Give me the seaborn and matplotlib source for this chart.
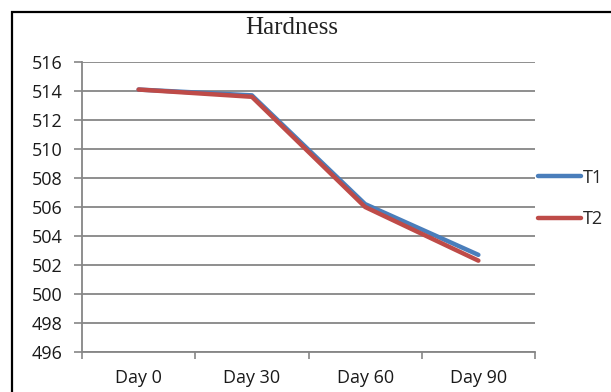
import matplotlib
matplotlib.use("Agg")
import matplotlib.pyplot as plt
from matplotlib.patches import Rectangle
import seaborn as sns
import pandas as pd

# Datos
dias = ["Day 0", "Day 30", "Day 60", "Day 90"]
t1 = [514.1, 513.7, 506.2, 502.7]
t2 = [514.1, 513.6, 506.0, 502.3]
y_ticks = list(range(496, 517, 2))

df = pd.DataFrame({
    "dia": dias * 2,
    "valor": t1 + t2,
    "serie": ["T1"] * len(dias) + ["T2"] * len(dias),
})

sns.set_style("white")
plt.rcParams["font.family"] = ["Open Sans", "DejaVu Sans"]

fig = plt.figure(figsize=(6.11, 3.92), dpi=100)
ax = fig.add_axes([82 / 611, 1 - 352 / 392, (535 - 82) / 611, (352 - 62) / 392])

sns.lineplot(data=df, x="dia", y="valor", hue="serie", sort=False,
             palette={"T1": "#4A7EBB", "T2": "#BE4B48"}, linewidth=3.2, ax=ax)

ax.set_xlim(-0.5, 3.5)
ax.set_ylim(496, 516)
ax.set_yticks(y_ticks)
ax.set_xticks(range(len(dias)))
ax.set_xticklabels(dias)
ax.set_xticks([-0.5, 0.5, 1.5, 2.5, 3.5], minor=True)
ax.tick_params(axis="x", which="major", length=0, labelsize=13, pad=12, colors="#1a1a1a")
ax.tick_params(axis="x", which="minor", length=5, width=1.2, color="#868686", bottom=True)
ax.tick_params(axis="y", length=6, width=1.2, labelsize=13, colors="#1a1a1a", left=True, pad=8)
ax.tick_params(axis="y", color="#868686")
ax.yaxis.grid(True, color="#868686", linewidth=1.3)
ax.set_axisbelow(True)
for s in ["top", "right"]:
    ax.spines[s].set_visible(False)
for s in ["left", "bottom"]:
    ax.spines[s].set_color("#868686")
    ax.spines[s].set_linewidth(1.3)
ax.set_xlabel("")
ax.set_ylabel("")

fig.text(292 / 611, 1 - 28 / 392, "Hardness", fontfamily="Liberation Serif",
         fontsize=18, ha="center", va="center", color="#222222")

leg = ax.legend(loc="center left", bbox_to_anchor=(0.99, 0.53), frameon=False,
                fontsize=13, handlelength=2.4, handletextpad=0.1, labelspacing=1.3,
                borderaxespad=0.0)
for h in leg.get_lines():
    h.set_linewidth(3.2)

# Marco negro alrededor de la figura
fig.patches.append(Rectangle((12 / 611, -0.1), 1.2, 1 - 12 / 392 + 0.1,
                             transform=fig.transFigure, fill=False,
                             edgecolor="black", linewidth=1.6))

fig.savefig("out.png", dpi=100)
